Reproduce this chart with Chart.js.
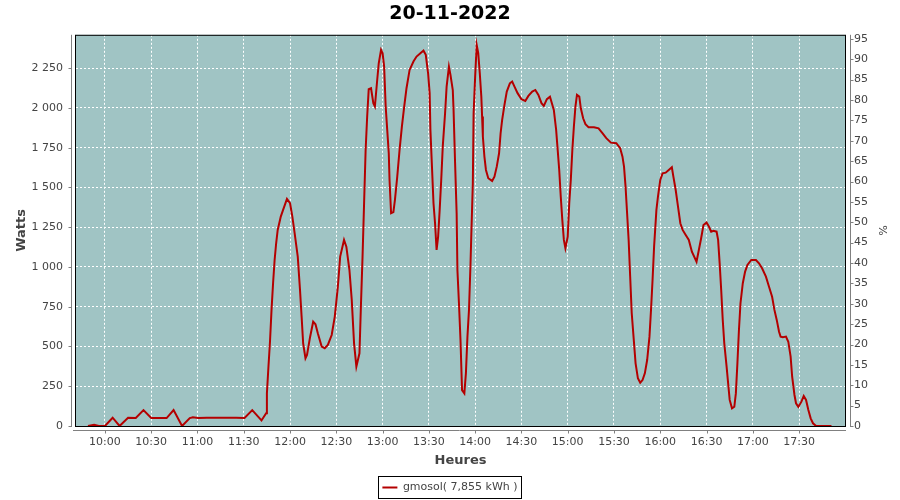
<!DOCTYPE html>
<html>
<head>
<meta charset="utf-8">
<script src="https://cdn.jsdelivr.net/npm/chart.js@4"></script>
<style>
  html, body { margin: 0; padding: 0; background: #ffffff; }
  #wrap { width: 900px; height: 500px; }
</style>
</head>
<body>
<div id="wrap"><canvas id="prodChart" width="900" height="500"></canvas></div>
<script>
// minutes after midnight
var timeMin = [589, 593, 596, 600, 605, 609.5, 615, 620, 625, 630, 640, 644.5, 650, 655, 657, 660.5, 666, 685, 690.5, 695.5,
  701.5, 704.5, 705, 706, 707, 708, 709, 710, 711, 712, 714, 715.5, 718, 720, 721.5, 723, 725, 726.5, 727.5, 728.5,
  730, 731, 733, 735, 736.5, 738, 740.5, 742.5, 744.5, 747, 749, 751, 752.5, 755, 756.5, 758.5, 760, 761.5, 763, 765,
  766, 767, 768, 769, 770, 771, 772.5, 774, 775, 776.5, 777.5, 779, 780, 781, 782, 783, 784, 784.5, 785.5, 787,
  788, 789.5, 791, 792.5, 794, 795.5, 797.5, 800, 802, 804.5, 806.5, 808, 809.5, 810.5, 811, 812, 813, 814, 815, 816,
  817, 818, 819, 820.5, 821.5, 823, 824, 825.5, 826, 827, 828, 828.5, 829.5, 830.5, 831.5, 833, 834, 835, 836, 837,
  837.5, 838.5, 839, 840, 841, 842, 843, 844, 844.5, 845, 846, 847, 848.5, 851, 852.5, 854, 855.5, 856.5, 857.5, 859,
  860.5, 862.5, 864, 865.5, 867.5, 870, 872.5, 874.5, 877, 879, 881, 883, 884.5, 886.5, 888.5, 891, 892.5, 893.5, 894.5, 895.5,
  896.5, 897.5, 898.5, 900, 901, 902, 903, 904, 905, 906, 907.5, 908.5, 910, 911.5, 913.5, 917, 920, 922.5, 925, 928,
  931.5, 934, 935.5, 936.5, 937.5, 938.5, 939.5, 940.5, 941.5, 943, 944, 945.5, 947, 948.5, 950, 951.5, 953, 954, 955, 956,
  957.5, 958.5, 960, 961.5, 963.5, 965.5, 967.5, 968.5, 970, 971.5, 973, 974.5, 976.5, 978.5, 980.5, 983.5, 985, 986.5, 988, 990,
  991.5, 993, 994.5, 996.5, 997.5, 998.5, 999.5, 1000.5, 1001.5, 1003, 1004, 1005, 1006.5, 1008, 1009, 1010, 1011, 1012, 1013.5, 1015,
  1016.5, 1019, 1022, 1024, 1026, 1028.5, 1030.5, 1032.5, 1034, 1035.5, 1037, 1038, 1039.5, 1041.5, 1043, 1044.5, 1045.5, 1047, 1048, 1049.5,
  1051.5, 1053, 1054.5, 1056, 1057.5, 1059, 1061, 1071];

var watts = [0, 8, 0, 0, 52, 0, 52, 50, 100, 50, 50, 100, 0, 50, 55, 50, 52, 52, 50, 100,
  35, 80, 205, 373, 530, 730, 898, 1044, 1149, 1233, 1317, 1359, 1428, 1401, 1317, 1212, 1065, 850, 688, 520,
  426, 447, 560, 656, 640, 583, 499, 489, 510, 572, 688, 876, 1065, 1170, 1128, 981, 793, 520, 373, 457,
  772, 1065, 1401, 1736, 1946, 2118, 2124, 2030, 2009, 2176, 2281, 2365, 2344, 2260, 2009, 1862, 1715, 1547, 1338, 1345,
  1422, 1568, 1736, 1883, 2009, 2124, 2239, 2292, 2323, 2344, 2361, 2334, 2218, 2093, 1862, 1631, 1401, 1275, 1107, 1191,
  1359, 1547, 1757, 1967, 2134, 2260, 2208, 2113, 1988, 1652, 1338, 981, 772, 541, 226, 205, 331, 562, 730, 1023,
  1200, 1526, 1967, 2197, 2396, 2344, 2218, 2071, 1946, 1820, 1694, 1610, 1558, 1541, 1568, 1631, 1715, 1841, 1925, 2019,
  2103, 2155, 2166, 2134, 2093, 2055, 2044, 2076, 2103, 2113, 2082, 2030, 2013, 2055, 2071, 1988, 1862, 1736, 1610, 1442,
  1296, 1170, 1118, 1191, 1401, 1547, 1736, 1883, 2009, 2082, 2071, 1998, 1935, 1898, 1879, 1879, 1872, 1841, 1810, 1782,
  1778, 1747, 1694, 1631, 1505, 1338, 1170, 939, 709, 520, 394, 300, 272, 289, 331, 415, 562, 730, 918, 1128,
  1359, 1442, 1547, 1589, 1593, 1610, 1627, 1568, 1484, 1379, 1275, 1233, 1201, 1170, 1096, 1033, 1107, 1181, 1264, 1279,
  1254, 1222, 1227, 1222, 1170, 1023, 855, 667, 520, 373, 268, 164, 111, 121, 205, 394, 604, 772, 898, 971,
  1013, 1044, 1044, 1023, 992, 939, 876, 813, 730, 667, 593, 562, 558, 562, 530, 436, 310, 195, 143, 121,
  153, 189, 164, 101, 48, 17, 0, 0];

var hourTicks = ['10:00', '10:30', '11:00', '11:30', '12:00', '12:30', '13:00', '13:30',
  '14:00', '14:30', '15:00', '15:30', '16:00', '16:30', '17:00', '17:30'];
var wattTicks = [0, 250, 500, 750, 1000, 1250, 1500, 1750, 2000, 2250];
var pctTicks = [0, 5, 10, 15, 20, 25, 30, 35, 40, 45, 50, 55, 60, 65, 70, 75, 80, 85, 90, 95];

var seriesLabel = 'gmosol( 7,855 kWh )';
var chartTitle = '20-11-2022';

function toMin(s) {
    var p = s.split(':');
    return parseInt(p[0], 10) * 60 + parseInt(p[1], 10);
}

var points = timeMin.map(function (t, i) { return { x: t, y: watts[i] }; });

var FONT = 'DejaVu Sans';
var AXIS_GREY = '#808080';
var TEXT_GREY = '#444444';
var PAD_BOTTOM = -3;

// plot background, frame, offset axis lines, legend frame
var decoPlugin = {
    id: 'deco',
    beforeDraw: function (chart) {
        var a = chart.chartArea, ctx = chart.ctx;
        ctx.save();
        ctx.fillStyle = '#a0c4c4';
        ctx.fillRect(a.left, a.top, a.right - a.left, a.bottom - a.top);
        ctx.restore();
    },
    afterDatasetsDraw: function (chart) {
        var a = chart.chartArea, ctx = chart.ctx;
        ctx.save();
        ctx.strokeStyle = '#000000';
        ctx.lineWidth = 1;
        ctx.strokeRect(a.left + 0.5, a.top + 0.5, a.right - a.left - 1, a.bottom - a.top);
        ctx.restore();
    },
    afterDraw: function (chart) {
        var a = chart.chartArea, ctx = chart.ctx;
        var sx = chart.scales.x, sy = chart.scales.y, sp = chart.scales.yPct;
        ctx.save();
        ctx.strokeStyle = AXIS_GREY;
        ctx.lineWidth = 1;
        ctx.beginPath();
        // left axis
        ctx.moveTo(a.left - 3.5, a.top);
        ctx.lineTo(a.left - 3.5, a.bottom + 1);
        sy.ticks.forEach(function (t, i) {
            var y = Math.round(sy.getPixelForTick(i)) + 0.5;
            ctx.moveTo(a.left - 6.5, y);
            ctx.lineTo(a.left - 3.5, y);
        });
        // bottom axis
        ctx.moveTo(a.left - 2, a.bottom + 4.5);
        ctx.lineTo(a.right, a.bottom + 4.5);
        sx.ticks.forEach(function (t, i) {
            var x = Math.round(sx.getPixelForTick(i)) + 0.5;
            ctx.moveTo(x, a.bottom + 4.5);
            ctx.lineTo(x, a.bottom + 7.5);
        });
        // right axis
        ctx.moveTo(a.right + 4.5, a.top);
        ctx.lineTo(a.right + 4.5, a.bottom + 1);
        sp.ticks.forEach(function (t, i) {
            var y = Math.round(sp.getPixelForTick(i)) + 0.5;
            ctx.moveTo(a.right + 4.5, y);
            ctx.lineTo(a.right + 7.5, y);
        });
        ctx.stroke();

        // legend frame
        var hb = chart.legend.legendHitBoxes && chart.legend.legendHitBoxes[0];
        if (hb) {
            ctx.strokeStyle = '#000000';
            ctx.strokeRect(Math.round(hb.left) - 3.5, Math.round(hb.top + hb.height / 2) - 11.5,
                Math.round(hb.width) + 8, 22);
        }
        ctx.restore();
    }
};

var gridDash = { display: true, color: 'rgba(0,0,0,0)', dash: [2, 2], dashOffset: 0 };

var canvas = document.getElementById('prodChart');
var ctx = canvas.getContext('2d');
new Chart(ctx, {
    type: 'line',
    data: {
        datasets: [{
            label: seriesLabel,
            data: points,
            borderColor: '#b40000',
            backgroundColor: '#b40000',
            borderWidth: 2,
            pointRadius: 0,
            tension: 0,
            fill: false,
            yAxisID: 'y'
        }]
    },
    options: {
        responsive: false,
        animation: false,
        layout: { padding: { top: 0, left: 0, right: 0, bottom: PAD_BOTTOM } },
        scales: {
            x: {
                type: 'linear',
                min: 580.6,
                max: 1080.4,
                afterBuildTicks: function (scale) {
                    scale.ticks = hourTicks.map(function (h) { return { value: toMin(h) }; });
                },
                afterFit: function (scale) {
                    scale.height = 500 - PAD_BOTTOM - 426 - scale.chart.legend.height;
                },
                ticks: {
                    autoSkip: false,
                    maxRotation: 0,
                    padding: 10,
                    color: TEXT_GREY,
                    font: { family: FONT, size: 11 },
                    callback: function (v) {
                        var h = Math.floor(v / 60), m = Math.round(v % 60);
                        return (h < 10 ? '0' : '') + h + ':' + (m < 10 ? '0' : '') + m;
                    }
                },
                grid: {
                    color: '#ffffff',
                    lineWidth: 1,
                    drawTicks: false,
                    borderDash: [2, 2]
                },
                border: gridDash,
                title: {
                    display: true,
                    text: 'Heures',
                    color: TEXT_GREY,
                    font: { family: FONT, size: 13, weight: 'bold' },
                    padding: { top: 0, bottom: 12 }
                }
            },
            y: {
                position: 'left',
                min: 0,
                max: 2460,
                afterBuildTicks: function (scale) {
                    scale.ticks = wattTicks.map(function (v) { return { value: v }; });
                },
                afterFit: function (scale) { scale.width = 75; },
                ticks: {
                    padding: 12,
                    color: TEXT_GREY,
                    font: { family: FONT, size: 11 },
                    callback: function (v) {
                        return String(v).replace(/\B(?=(\d{3})+(?!\d))/g, ' ');
                    }
                },
                grid: { color: '#ffffff', lineWidth: 1, drawTicks: false, borderDash: [2, 2] },
                border: gridDash,
                title: {
                    display: true,
                    text: 'Watts',
                    color: TEXT_GREY,
                    font: { family: FONT, size: 13, weight: 'bold' },
                    padding: { top: 14, bottom: 0 }
                }
            },
            yPct: {
                position: 'right',
                min: 0,
                max: 96,
                afterBuildTicks: function (scale) {
                    scale.ticks = pctTicks.map(function (v) { return { value: v }; });
                },
                afterFit: function (scale) { scale.width = 54; },
                ticks: {
                    padding: 8,
                    color: TEXT_GREY,
                    font: { family: FONT, size: 11 }
                },
                grid: { drawOnChartArea: false, drawTicks: false },
                border: { display: false },
                title: {
                    display: true,
                    text: '%',
                    color: TEXT_GREY,
                    font: { family: FONT, size: 11 },
                    padding: { top: 12, bottom: 0 }
                }
            }
        },
        plugins: {
            title: {
                display: true,
                text: chartTitle,
                color: '#000000',
                font: { family: FONT, size: 19, weight: 'bold' },
                padding: { top: 3, bottom: 9 }
            },
            legend: {
                display: true,
                position: 'bottom',
                labels: {
                    usePointStyle: true,
                    pointStyle: 'line',
                    pointStyleWidth: 15,
                    padding: 2,
                    color: TEXT_GREY,
                    font: { family: FONT, size: 11 }
                }
            },
            tooltip: { enabled: false }
        }
    },
    plugins: [decoPlugin]
});
</script>
</body>
</html>
